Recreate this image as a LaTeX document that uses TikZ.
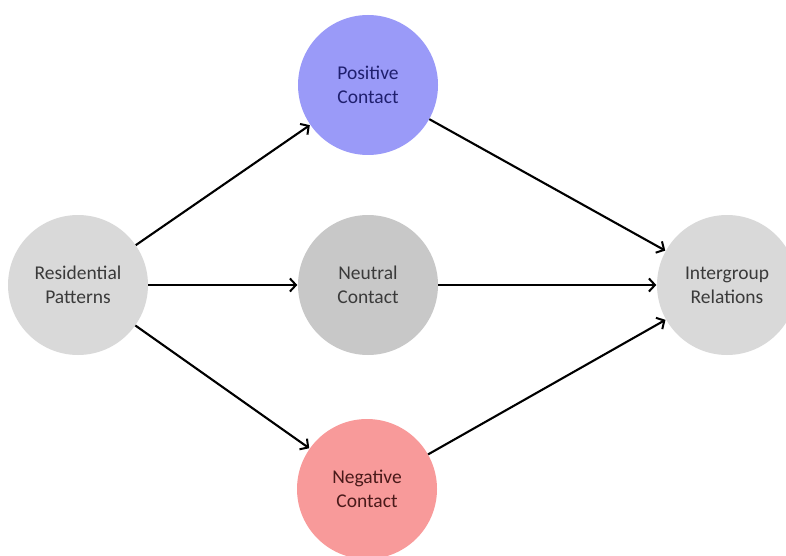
\documentclass[tikz,border=0pt]{standalone}
\usepackage{fontspec}
\setmainfont{Carlito}
\usetikzlibrary{arrows.meta}
\definecolor{lightgray}{HTML}{D9D9D9}
\definecolor{midgray}{HTML}{C8C8C8}
\definecolor{posblue}{HTML}{9A9AF8}
\definecolor{negred}{HTML}{F89A9A}
\definecolor{txtgray}{HTML}{3A3A3A}
\definecolor{txtblue}{HTML}{1F1F6E}
\definecolor{txtred}{HTML}{4A1A1A}
\begin{document}
\begin{tikzpicture}[x=1pt,y=-1pt,
  circ/.style={circle, minimum size=140pt, inner sep=0pt, align=center,
    font=\fontsize{19.5}{24}\selectfont},
  conn/.style={line width=2.1pt, -{Straight Barb[length=6pt,width=13pt,line width=2pt]}, shorten >=0.5pt}]
\useasboundingbox (0,0) rectangle (786,556);
\node[circ, fill=lightgray, text=txtgray] (res) at (78,285) {Residential\\Patterns};
\node[circ, fill=posblue, text=txtblue] (pos) at (368,85) {Positive\\Contact};
\node[circ, fill=midgray, text=txtgray] (neu) at (368,285) {Neutral\\Contact};
\node[circ, fill=negred, text=txtred] (neg) at (367,489) {Negative\\Contact};
\node[circ, fill=lightgray, text=txtgray] (igr) at (727,285) {Intergroup\\Relations};
\draw[conn] (res) -- (pos);
\draw[conn] (res) -- (neu);
\draw[conn] (res) -- (neg);
\draw[conn] (pos) -- (igr);
\draw[conn] (neu) -- (igr);
\draw[conn] (neg) -- (igr);
\end{tikzpicture}
\end{document}
